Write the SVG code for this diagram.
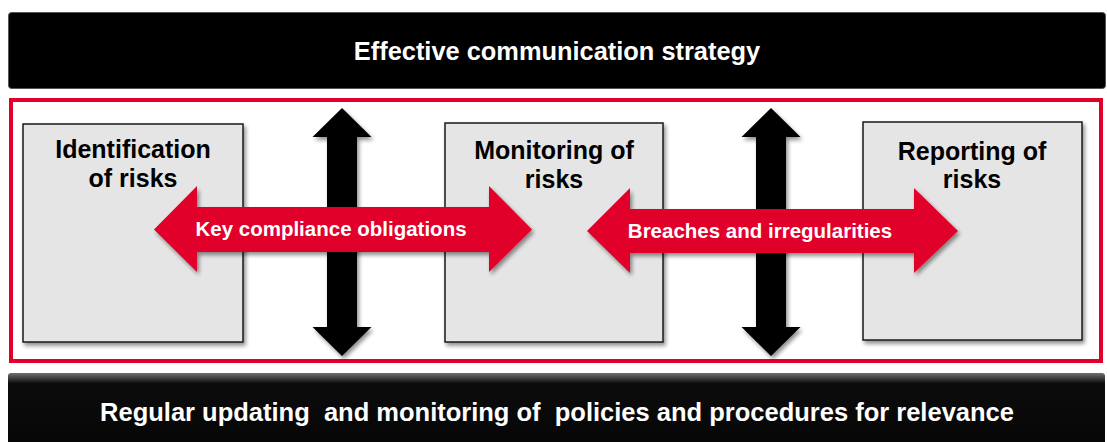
<svg xmlns="http://www.w3.org/2000/svg" width="1107" height="442" viewBox="0 0 1107 442">
  <style>
    .bar { fill: #000; stroke: #555; stroke-width: 1; }
    .bar-text { fill: #fff; font-family: "Liberation Sans", Arial, sans-serif; font-weight: bold; text-anchor: middle; }
    .box { fill: #e5e5e5; stroke: #1a1a1a; stroke-width: 1.5; filter: url(#shadow); }
    .box-text { fill: #000; font-family: "Liberation Sans", Arial, sans-serif; font-weight: bold; font-size: 25px; text-anchor: middle; }
    .flow { fill: #e1002a; filter: url(#shadow); }
    .flow-text { fill: #fff; font-family: "Liberation Sans", Arial, sans-serif; font-weight: bold; font-size: 20.5px; text-anchor: middle; }
    .link { fill: #000; filter: url(#shadow); }
  </style>
  <defs>
    <filter id="shadow" x="-10%" y="-10%" width="125%" height="125%">
      <feGaussianBlur in="SourceAlpha" stdDeviation="2.2"/>
      <feOffset dx="2" dy="3" result="blur"/>
      <feComponentTransfer><feFuncA type="linear" slope="0.45"/></feComponentTransfer>
      <feMerge><feMergeNode/><feMergeNode in="SourceGraphic"/></feMerge>
    </filter>
    <linearGradient id="bevel" x1="0" y1="0" x2="0" y2="1">
      <stop offset="0" stop-color="#707070"/>
      <stop offset="0.13" stop-color="#0c0c0c"/>
      <stop offset="1" stop-color="#050505"/>
    </linearGradient>
  </defs>

  <rect width="1107" height="442" fill="#fff"/>

  <!-- header -->
  <g id="strategy">
    <rect class="bar" x="8.5" y="12.5" width="1097" height="76" rx="3"/>
    <text class="bar-text" x="557" y="60" font-size="25.4">Effective communication strategy</text>
  </g>

  <!-- frame -->
  <rect id="frame" x="11" y="100" width="1090" height="261" fill="none" stroke="#e1002a" stroke-width="4"/>

  <!-- vertical links -->
  <g id="connectors">
    <polygon class="link" points="342,108 371.5,137 357,137 357,327 371.5,327 342,356 312.5,327 327,327 327,137 312.5,137"/>
    <polygon class="link" points="771,108 800.5,137 786,137 786,327 800.5,327 771,356 741.5,327 756,327 756,137 741.5,137"/>
  </g>

  <!-- stages -->
  <g id="identification">
    <rect class="box" x="23" y="124" width="220" height="218"/>
    <text class="box-text" x="133" y="158">Identification</text>
    <text class="box-text" x="133" y="187">of risks</text>
  </g>
  <g id="monitoring">
    <rect class="box" x="445" y="123" width="218" height="219"/>
    <text class="box-text" x="554" y="159">Monitoring of</text>
    <text class="box-text" x="554" y="188">risks</text>
  </g>
  <g id="reporting">
    <rect class="box" x="863" y="122" width="219" height="218"/>
    <text class="box-text" x="972" y="160">Reporting of</text>
    <text class="box-text" x="972" y="188">risks</text>
  </g>

  <!-- flows between stages -->
  <g id="obligations">
    <polygon class="flow" points="154,229.5 197,186 197,207 489,207 489,186 532,229.5 489,272 489,252 197,252 197,272"/>
    <text class="flow-text" x="331" y="236">Key compliance obligations</text>
  </g>
  <g id="breaches">
    <polygon class="flow" points="587,231 630,188 630,209 914,209 914,188 958,231 914,273 914,253 630,253 630,273"/>
    <text class="flow-text" x="760" y="238">Breaches and irregularities</text>
  </g>

  <!-- footer -->
  <g id="policies">
    <rect x="8" y="373" width="1097" height="80" rx="3" fill="url(#bevel)"/>
    <text class="bar-text" x="557" y="421" font-size="25.5" xml:space="preserve">Regular updating  and monitoring of  policies and procedures for relevance</text>
  </g>
</svg>
